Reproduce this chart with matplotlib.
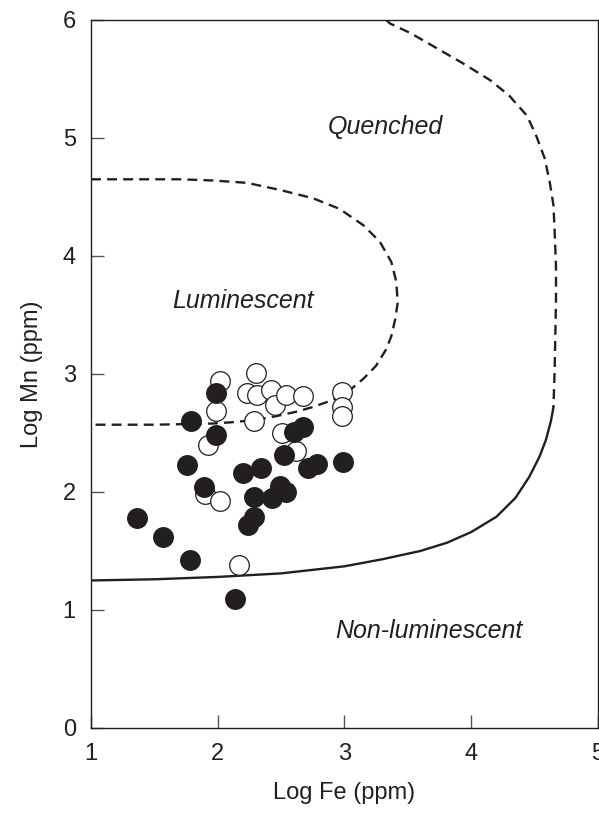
import matplotlib.pyplot as plt

plt.rcParams['font.family'] = ['Liberation Sans', 'DejaVu Sans']

# samples: log Fe, log Mn (ppm)
fe_open = [2.02, 1.99, 1.92, 1.90, 2.02, 2.17, 2.30, 2.23, 2.31, 2.42,
           2.45, 2.54, 2.67, 2.29, 2.51, 2.62, 2.98, 2.98, 2.98]
mn_open = [2.94, 2.69, 2.40, 1.98, 1.92, 1.38, 3.01, 2.84, 2.82, 2.86,
           2.74, 2.82, 2.81, 2.60, 2.50, 2.35, 2.85, 2.72, 2.64]

fe_filled = [1.36, 1.57, 1.78, 2.14, 1.76, 1.89, 1.79, 1.99, 1.99, 2.20,
             2.34, 2.52, 2.60, 2.67, 2.71, 2.78, 2.99, 2.29, 2.43, 2.49,
             2.54, 2.29, 2.24]
mn_filled = [1.78, 1.62, 1.42, 1.09, 2.23, 2.04, 2.60, 2.48, 2.84, 2.16,
             2.20, 2.31, 2.51, 2.55, 2.20, 2.24, 2.25, 1.96, 1.95, 2.05,
             2.00, 1.79, 1.72]

# field boundaries
lum_fe = [1.00, 1.40, 1.70, 1.96, 2.23, 2.49, 2.75, 2.96, 3.15, 3.28,
          3.37, 3.41, 3.42, 3.40, 3.37, 3.33, 3.25, 3.15, 3.05, 2.91,
          2.75, 2.62, 2.45, 2.30, 2.10, 1.96, 1.50, 1.00]
lum_mn = [4.65, 4.65, 4.65, 4.64, 4.62, 4.56, 4.49, 4.40, 4.26, 4.12,
          3.95, 3.78, 3.60, 3.46, 3.32, 3.21, 3.07, 2.96, 2.87, 2.78,
          2.72, 2.68, 2.64, 2.61, 2.59, 2.58, 2.57, 2.57]

quench_fe = [3.33, 3.36, 3.52, 3.73, 3.94, 4.15, 4.30, 4.44, 4.51, 4.58,
             4.62, 4.65, 4.66, 4.67, 4.67, 4.66, 4.65]
quench_mn = [6.00, 5.97, 5.89, 5.76, 5.63, 5.49, 5.36, 5.19, 5.03, 4.83,
             4.63, 4.43, 4.19, 3.91, 3.63, 3.06, 2.72]

nonlum_fe = [1.00, 1.50, 2.00, 2.50, 3.00, 3.30, 3.60, 3.81, 4.00, 4.20,
             4.35, 4.46, 4.54, 4.59, 4.63, 4.65]
nonlum_mn = [1.25, 1.26, 1.28, 1.31, 1.37, 1.43, 1.50, 1.57, 1.66, 1.79,
             1.95, 2.13, 2.30, 2.44, 2.60, 2.72]

ink = '#231f20'

fig = plt.figure(figsize=(5.99, 8.13), dpi=100)
ax = fig.add_axes([0.152, 0.1046, 0.846, 0.8708])

ax.plot(lum_fe, lum_mn, color=ink, lw=1.7, dashes=(4.2, 2.6), zorder=1)
ax.plot(quench_fe, quench_mn, color=ink, lw=1.7, dashes=(4.2, 2.6), zorder=1)
ax.plot(nonlum_fe, nonlum_mn, color=ink, lw=1.7, zorder=1)

ax.scatter(fe_open, mn_open, s=200, facecolor='white', edgecolor=ink,
           linewidth=0.9, zorder=2)
ax.scatter(fe_filled, mn_filled, s=200, facecolor=ink, edgecolor=ink,
           linewidth=0.9, zorder=3)

ax.text(3.32, 5.09, 'Quenched', style='italic', fontsize=18, color=ink,
        ha='center', va='center')
ax.text(2.20, 3.62, 'Luminescent', style='italic', fontsize=18, color=ink,
        ha='center', va='center')
ax.text(3.67, 0.82, 'Non-luminescent', style='italic', fontsize=18, color=ink,
        ha='center', va='center')

ax.set_xlim(1, 5)
ax.set_ylim(0, 6)
ax.set_xticks([1, 2, 3, 4, 5])
ax.set_yticks([0, 1, 2, 3, 4, 5, 6])
ax.tick_params(direction='in', length=9.5, width=1, color='#555555',
               labelsize=17, labelcolor=ink, pad=11)
for s in ax.spines.values():
    s.set_linewidth(1)
    s.set_color(ink)

ax.set_xlabel('Log Fe (ppm)', fontsize=17, color=ink, labelpad=12)
ax.set_ylabel('Log Mn (ppm)', fontsize=17, color=ink, labelpad=14)

fig.savefig('out.png', dpi=100)
